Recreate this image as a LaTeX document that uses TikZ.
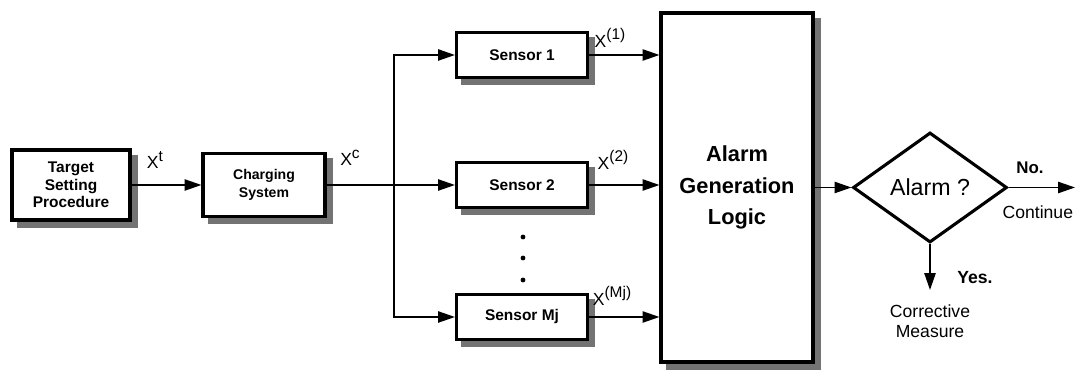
\documentclass[tikz,border=0pt]{standalone}
\usepackage{fontspec}
\setmainfont{Liberation Sans}
\usetikzlibrary{arrows.meta,shapes.geometric,backgrounds}

\newcommand{\sigX}[1]{X\raisebox{0.42em}{\fontsize{11}{11}\selectfont#1}}

\begin{document}
\begin{tikzpicture}[
  block/.style={draw, line width=2.2pt, fill=white, align=center, inner sep=0pt,
    font=\bfseries\fontsize{11}{13}\selectfont},
  shade box/.style={fill=black!55},
  flow/.style={line width=1.1pt, -{Triangle[length=12pt,width=8pt]}},
  sig/.style={font=\fontsize{12.5}{14}\selectfont},
  note/.style={align=center, font=\fontsize{12.5}{14.2}\selectfont}]
\useasboundingbox (0,0) rectangle (26.875,9.25);

\node[block, minimum width=2.95cm, minimum height=1.75cm, font=\bfseries\fontsize{11}{12.5}\selectfont] (target) at (1.775,4.625) {Target\\ Setting\\ Procedure};
\node[block, minimum width=3.05cm, minimum height=1.575cm, font=\bfseries\fontsize{10}{13}\selectfont] (charging) at (6.6,4.625) {Charging\\ System};

\node[block, minimum width=3.275cm, minimum height=1.125cm] (sens1) at (13.05,7.875) {Sensor 1};
\node[block, minimum width=3.275cm, minimum height=1.125cm] (sens2) at (13.05,4.625) {Sensor 2};
\node[block, minimum width=3.275cm, minimum height=1.125cm] (sensM) at (13.05,1.325) {Sensor Mj};
\foreach \y in {3.325,2.8,2.25}
  \fill (13.075,\y) circle (1.7pt);

\node[block, minimum width=3.8cm, minimum height=8.725cm, font=\bfseries\fontsize{15.5}{22.5}\selectfont] (logic) at (18.425,4.5625) {Alarm\\ Generation\\ Logic};
\node[draw, diamond, aspect=1.4, line width=2.2pt, minimum width=3.85cm, minimum height=2.75cm, inner sep=0pt, font=\fontsize{16.5}{18}\selectfont] (alarm) at (23.25,4.5625) {Alarm ?};

% shadows behind the boxes
\begin{scope}[on background layer]
\foreach \b in {target,charging,sens1,sens2,sensM,logic}
  \fill[shade box] ([shift={(4.5pt,-4.5pt)}]\b.south west) rectangle ([shift={(4.5pt,-4.5pt)}]\b.north east);
\end{scope}

% signals into the sensors
\coordinate (split) at (9.85,4.625);
\draw[flow] (target) -- (charging);
\draw[line width=1.1pt] (charging.east) -- (split);
\draw[flow] (split) -- (sens2.west);
\draw[flow] (split) |- (sens1.west);
\draw[flow] (split) |- (sensM.west);

% sensor outputs
\draw[flow] (sens1.east) -- (sens1.east -| logic.west);
\draw[flow] (sens2.east) -- (sens2.east -| logic.west);
\draw[flow] (sensM.east) -- (sensM.east -| logic.west);

\node[sig] (xt) at (3.875,5.25) {\sigX{t}};
\node[sig] (xc) at (8.75,5.3) {\sigX{c}};
\node[sig] (x1) at (15.25,8.3) {\sigX{(1)}};
\node[sig] (x2) at (15.325,5.25) {\sigX{(2)}};
\node[sig] (xM) at (15.3,1.85) {\sigX{(Mj)}};

% decision
\coordinate (cont) at (26.875,4.5625);
\coordinate (corr) at (23.25,2.0);
\draw[flow] (logic.east) -- (alarm.west);
\draw[flow] (alarm.east) -- (cont);
\draw[flow] (alarm.south) -- (corr);

\node[note, font=\bfseries\fontsize{12}{14}\selectfont] (no) at (25.75,5.05) {No.};
\node[note, anchor=east] (continue) at (26.95,3.95) {Continue};
\node[note, font=\bfseries\fontsize{12.5}{14}\selectfont] (yes) at (24.375,2.3) {Yes.};
\node[note] (measure) at (23.25,1.22) {Corrective\\ Measure};
\end{tikzpicture}
\end{document}
